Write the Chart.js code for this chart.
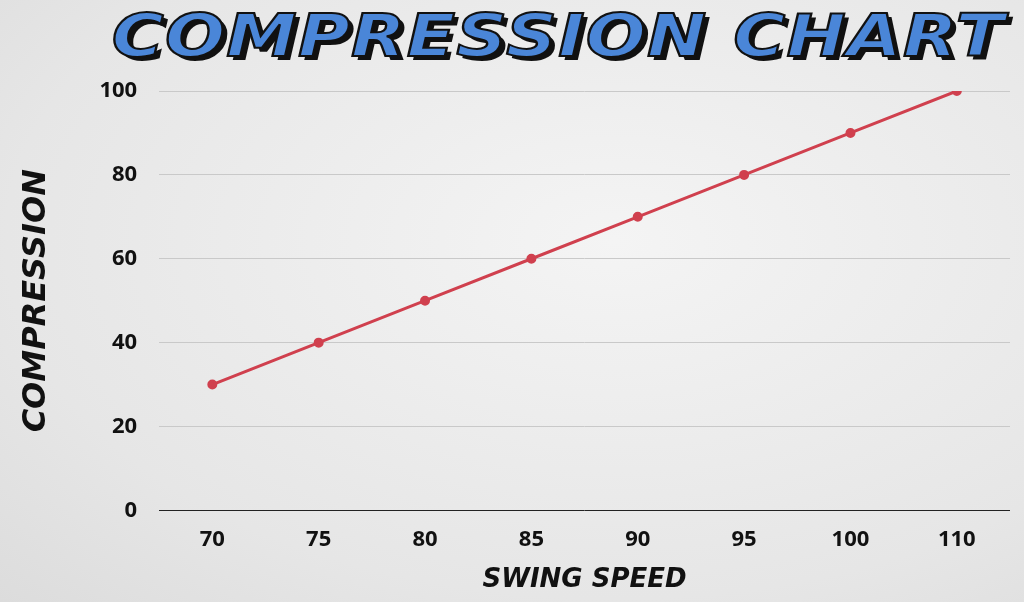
<!DOCTYPE html>
<html><head><meta charset="utf-8">
<script src="https://cdn.jsdelivr.net/npm/chart.js@4"></script>
<style>
html,body{margin:0;padding:0;width:1024px;height:602px;overflow:hidden;background:radial-gradient(ellipse at 60% 40%,#f4f4f4 0%,#e6e6e6 70%,#dcdcdc 100%);}
#t{position:absolute;left:0;top:2px;width:1024px;text-align:center;padding-left:76px;box-sizing:border-box;margin:0;font-family:"DejaVu Sans";font-weight:900;font-style:italic;font-size:58px;letter-spacing:1px;color:#4a86d8;-webkit-text-stroke:2px #111;text-shadow:4px 4px 0 #111;transform:scaleX(1.22);}
#w{position:absolute;left:0;top:0;width:1024px;height:602px;}
</style></head><body>
<div id="w"><canvas id="c"></canvas></div>
<h1 id="t">COMPRESSION CHART</h1>
<script>
const swingSpeed=["70","75","80","85","90","95","100","110"];
const compression=[30,40,50,60,70,80,90,100];
const yTicks=[0,20,40,60,80,100];
new Chart(document.getElementById('c'),{type:'line',
data:{labels:swingSpeed,datasets:[{data:compression,borderColor:'#d0404e',backgroundColor:'#d0404e',borderWidth:3,pointRadius:3.5,tension:0}]},
options:{responsive:true,maintainAspectRatio:false,animation:false,
layout:{padding:{top:91,right:14,left:13,bottom:2}},
plugins:{legend:{display:false},tooltip:{enabled:false}},
scales:{
x:{offset:true,grid:{display:false},border:{display:false},
ticks:{color:'#111',font:{family:'Open Sans',weight:'bold',size:22},padding:8},
title:{display:true,text:'SWING SPEED',color:'#111',font:{family:'DejaVu Sans',weight:'bold',style:'italic',size:26},padding:{top:4}}},
y:{min:0,max:100,afterBuildTicks:a=>{a.ticks=yTicks.map(v=>({value:v}));},
grid:{color:c=>c.tick.value===0?'#222':'#c9c9c9',drawTicks:false},border:{display:false},
ticks:{color:'#111',font:{family:'Open Sans',weight:'bold',size:22},padding:22},
title:{display:true,text:'COMPRESSION',color:'#111',font:{family:'DejaVu Sans',weight:'bold',style:'italic',size:32},padding:{bottom:22}}}
}}});
</script></body></html>
